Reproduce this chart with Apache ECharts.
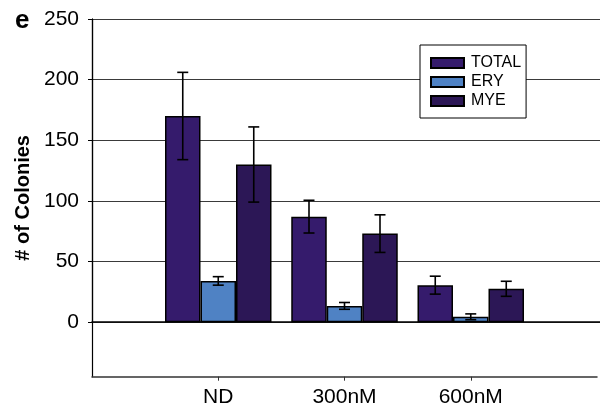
<!DOCTYPE html>
<html>
<head>
<meta charset="utf-8">
<script src="https://cdn.jsdelivr.net/npm/echarts@6/dist/echarts.min.js"></script>
<style>html,body{margin:0;padding:0;background:#fff;}#c{width:600px;height:411px;}</style>
</head>
<body>
<div id="c"></div>
<script>
const categories = ['ND', '300nM', '600nM'];
const seriesNames = ['TOTAL', 'ERY', 'MYE'];
const totalVals = [170, 87, 30.5];
const totalErr = [36, 13.5, 7.4];
const eryVals = [34, 13.4, 4.4];
const eryErr = [3.5, 2.8, 2.4];
const myeVals = [130, 73, 27.5];
const myeErr = [31, 15.5, 6.2];
const yMin = 0, yMax = 250, yStep = 50;
const yBottom = -45;

const colors = ['#351b6c', '#4f82c4', '#2c1756'];
const FONT = 'Liberation Sans, Arial, sans-serif';
const BAR_W = 35.5;

const xData = [''].concat(categories, ['']);
const pad = arr => ['-'].concat(arr, ['-']);
const vals = [totalVals, eryVals, myeVals];
const errs = [totalErr, eryErr, myeErr];

const barSeries = seriesNames.map((name, i) => ({
  name: name,
  type: 'bar',
  xAxisIndex: 0, yAxisIndex: 0,
  data: pad(vals[i]),
  barWidth: BAR_W,
  barGap: '0%',
  itemStyle: { color: colors[i], borderColor: '#000', borderWidth: 1.5 },
  z: 3
}));

const errSeries = seriesNames.map((name, i) => ({
  name: name + ' err',
  type: 'custom',
  xAxisIndex: 0, yAxisIndex: 0,
  z: 5,
  silent: true,
  data: vals[i].map((v, k) => [k + 1, v - errs[i][k], v + errs[i][k]]),
  renderItem: function (params, api) {
    const c = api.value(0);
    const x = api.coord([c, 0])[0] + (i - 1) * BAR_W;
    const yl = api.coord([c, api.value(1)])[1];
    const yh = api.coord([c, api.value(2)])[1];
    const cap = 5.5;
    const st = { stroke: '#000', lineWidth: 1.6 };
    return {
      type: 'group',
      children: [
        { type: 'line', shape: { x1: x, y1: yl, x2: x, y2: yh }, style: st },
        { type: 'line', shape: { x1: x - cap, y1: yh, x2: x + cap, y2: yh }, style: st },
        { type: 'line', shape: { x1: x - cap, y1: yl, x2: x + cap, y2: yl }, style: st }
      ]
    };
  }
}));

const chart = echarts.init(document.getElementById('c'), null, { renderer: 'canvas' });
chart.setOption({
  animation: false,
  backgroundColor: '#fff',
  textStyle: { fontFamily: FONT, color: '#000' },
  title: {
    text: 'e', left: 10, top: 3,
    textStyle: { fontFamily: FONT, fontSize: 26, fontWeight: 'bold', color: '#000' }
  },
  legend: {
    data: seriesNames,
    orient: 'vertical',
    left: 420, top: 45,
    padding: [10, 5, 9, 10],
    itemGap: 3,
    itemWidth: 33, itemHeight: 10,
    icon: 'rect',
    backgroundColor: '#fff',
    borderColor: '#000', borderWidth: 1,
    textStyle: { fontFamily: FONT, fontSize: 16, color: '#000', padding: [0, 0, 0, 2] },
    z: 10
  },
  grid: [
    { left: 92, top: 19, width: 512, height: 357.7, containLabel: false },
    { left: 92, top: 19, width: 512, height: 303, containLabel: false }
  ],
  xAxis: [
    {
      gridIndex: 0, type: 'category', data: xData, boundaryGap: false,
      axisLine: { onZero: false, lineStyle: { color: '#333', width: 1.5 } },
      axisTick: { length: 4, lineStyle: { color: '#333' }, interval: (idx) => idx > 0 && idx < xData.length - 1 },
      axisLabel: { fontFamily: FONT, fontSize: 21, color: '#000', margin: 10, interval: 0 },
      splitLine: { show: false }
    },
    {
      gridIndex: 1, type: 'category', data: [''], boundaryGap: false,
      axisLine: { lineStyle: { color: '#000', width: 1.5 } },
      axisTick: { show: false }, axisLabel: { show: false }, splitLine: { show: false }
    }
  ],
  yAxis: [
    {
      gridIndex: 0, type: 'value', min: yBottom, max: yMax,
      name: '# of Colonies', nameLocation: 'middle', nameRotate: 90, nameGap: 59,
      nameTextStyle: { fontFamily: FONT, fontSize: 20, fontWeight: 'bold', color: '#000' },
      axisLine: { show: true, lineStyle: { color: '#000', width: 1.2 } },
      axisTick: { show: false }, axisLabel: { show: false }, splitLine: { show: false }
    },
    {
      gridIndex: 1, type: 'value', min: yMin, max: yMax, interval: yStep,
      axisLine: { show: true, lineStyle: { color: '#000', width: 1.2 } },
      axisTick: { show: true, length: 4, lineStyle: { color: '#000' } },
      axisLabel: { fontFamily: FONT, fontSize: 21, color: '#000', margin: 13 },
      splitLine: { show: true, lineStyle: { color: '#3a3a3a', width: 1.2 } }
    }
  ],
  series: barSeries.concat(errSeries)
});
</script>
</body>
</html>
